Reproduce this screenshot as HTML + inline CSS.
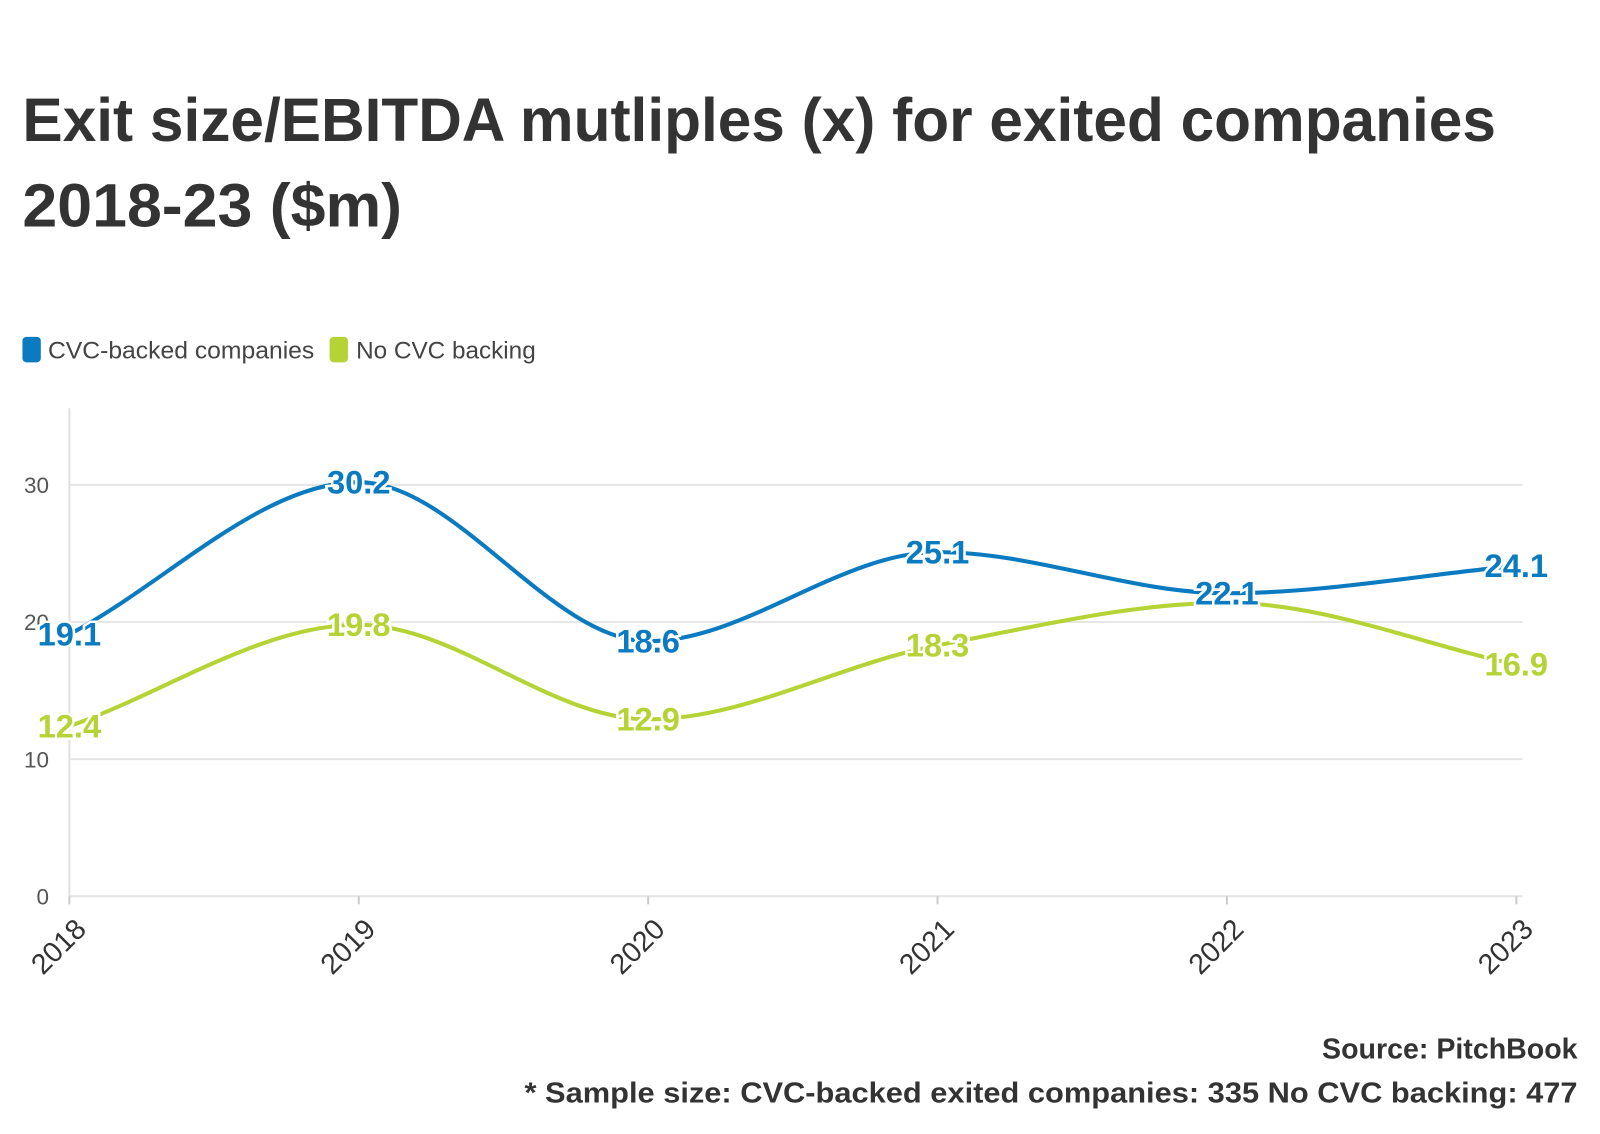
<!DOCTYPE html>
<html><head><meta charset="utf-8"><style>
html,body{margin:0;padding:0;background:#fff;width:1600px;height:1134px;overflow:hidden}
text{font-family:"Liberation Sans",sans-serif}
</style></head><body>
<svg id="chart" width="1600" height="1134" viewBox="0 0 1568 1111" preserveAspectRatio="none" xmlns="http://www.w3.org/2000/svg">
<text x="22" y="138" font-size="60" font-weight="bold" fill="#333" textLength="1444" lengthAdjust="spacingAndGlyphs">Exit size/EBITDA mutliples (x) for exited companies</text>
<text x="22" y="222" font-size="60" font-weight="bold" fill="#333" textLength="372" lengthAdjust="spacingAndGlyphs">2018-23 ($m)</text>
<g>
<rect x="22" y="330" width="18" height="25" rx="4" fill="#0a7bc1"/>
<text x="47" y="351" font-size="24" fill="#444" textLength="261" lengthAdjust="spacingAndGlyphs">CVC-backed companies</text>
<rect x="323" y="330" width="18" height="25" rx="4" fill="#b5d334"/>
<text x="349" y="351" font-size="24" fill="#444" textLength="176" lengthAdjust="spacingAndGlyphs">No CVC backing</text>
</g>
<g id="grid"></g><g id="lines"></g><g id="labels"></g>
<text x="1546" y="1037" font-size="28" font-weight="bold" fill="#333" text-anchor="end">Source: PitchBook</text>
<text x="1546" y="1080" font-size="28" font-weight="bold" fill="#333" text-anchor="end" textLength="1032" lengthAdjust="spacingAndGlyphs">* Sample size: CVC-backed exited companies: 335 No CVC backing: 477</text>
</svg>
<script>
const categories=["2018","2019","2020","2021","2022","2023"];
const cvcValues=[19.1,30.2,18.6,25.1,22.1,24.1];
const noCvcValues=[12.4,19.8,12.9,18.3,21.4,16.9];
const noCvcLabels=["12.4","19.8","12.9","18.3","","16.9"];
const yTicks=[0,10,20,30];
const NS="http://www.w3.org/2000/svg";
const x0=68,xStep=283.6,yBase=878,yUnit=13.43;
const xs=i=>x0+i*xStep, ys=v=>yBase-v*yUnit;
function mk(t,a,p){const e=document.createElementNS(NS,t);for(const k in a)e.setAttribute(k,a[k]);p.appendChild(e);return e;}
const grid=document.getElementById('grid'),lines=document.getElementById('lines'),labels=document.getElementById('labels');
yTicks.forEach(v=>{
 const l=mk('line',{x1:68,x2:1492,y1:ys(v),y2:ys(v),stroke:'#e6e6e6','stroke-width':2},grid);
 
 
 const t=mk('text',{x:48,y:ys(v)+8,'font-size':22,fill:'#555','text-anchor':'end'},grid);t.textContent=v;
 
 
});
const ax=mk('line',{x1:68,x2:68,y1:400,y2:878,stroke:'#e0e0e0','stroke-width':2},grid);


categories.forEach((c,i)=>{
 const tk=mk('line',{x1:xs(i),x2:xs(i),y1:878,y2:886,stroke:'#ccc','stroke-width':2},grid);
 
 
 const t=mk('text',{x:xs(i)+18,y:912,'font-size':28,fill:'#333','text-anchor':'end',transform:`rotate(-45 ${xs(i)+18} 912)`},grid);t.textContent=c;
 
 
});
function monotone(pts){
 const n=pts.length,d=[],m=[];
 for(let i=0;i<n-1;i++)d.push((pts[i+1][1]-pts[i][1])/(pts[i+1][0]-pts[i][0]));
 for(let i=0;i<n;i++){
  if(i==0)m.push(d[0]);else if(i==n-1)m.push(d[n-2]);
  else m.push(d[i-1]*d[i]<=0?0:(2*d[i-1]*d[i])/(d[i-1]+d[i]));
 }
 let s=`M${pts[0][0]},${pts[0][1]}`;
 for(let i=0;i<n-1;i++){const h=(pts[i+1][0]-pts[i][0])/3;
  s+=` C${pts[i][0]+h},${pts[i][1]+m[i]*h} ${pts[i+1][0]-h},${pts[i+1][1]-m[i+1]*h} ${pts[i+1][0]},${pts[i+1][1]}`;}
 return s;
}
function series(vals,color,name,labs){
 const p=mk('path',{d:monotone(vals.map((v,i)=>[xs(i),ys(v)])),fill:'none',stroke:color,'stroke-width':4},lines);
 
 
 vals.forEach((v,i)=>{
  const txt=labs?labs[i]:v.toFixed(1);if(!txt)return;
  const t=mk('text',{x:xs(i),y:ys(v)+11,'font-size':32,'font-weight':'bold',fill:color,'text-anchor':'middle',stroke:'#fff','stroke-width':5,'paint-order':'stroke'},labels);
  t.textContent=txt;
  
  
 });
}
series(noCvcValues,'#b5d334','no-cvc',noCvcLabels);
series(cvcValues,'#0a7bc1','cvc',null);
</script>
</body></html>
